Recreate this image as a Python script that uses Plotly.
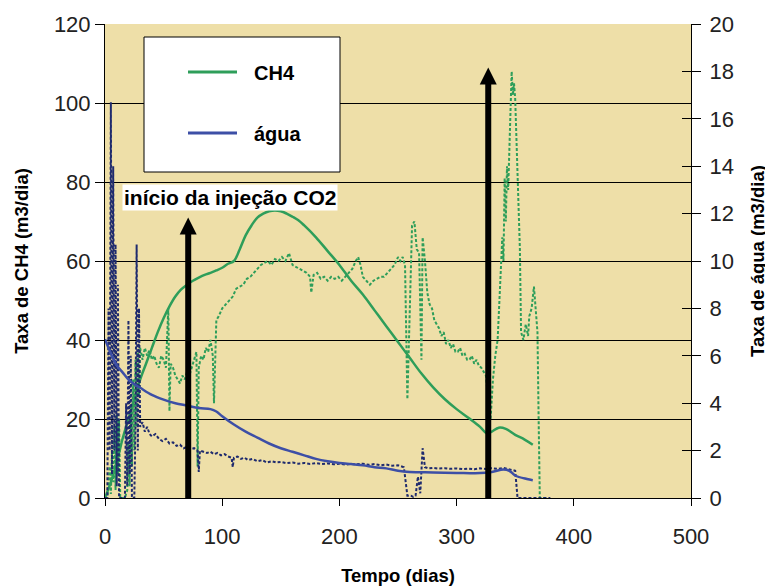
import plotly.graph_objects as go

# ---------------- data ----------------
# CH4 rate (left axis, m3/dia) - smooth simulated curve
ch4_days = [0, 5, 10, 15, 20, 25, 30, 35, 40, 45, 50, 55, 60, 65, 70, 75, 80, 85, 90, 95,
            100, 105, 110, 115, 120, 125, 130, 135, 140, 145, 150, 155, 160, 165, 170, 180,
            190, 200, 210, 220, 230, 240, 250, 260, 270, 280, 290, 300, 310, 320, 326, 330,
            336, 342, 350, 358, 365]
ch4_vals = [0, 4, 9, 15, 20, 25, 30, 34, 38, 42, 45.5, 48.5, 51, 52.8, 54, 55, 55.8, 56.5, 57, 57.6,
            58.3, 59.3, 60, 63, 66.5, 69, 71, 72, 72.6, 72.8, 72.6, 72, 71.2, 70.3, 69, 66,
            62.5, 59, 55, 51.5, 47.5, 43.5, 39.5, 35.5, 31.5, 28, 25, 22.5, 20.3, 18, 16.3, 16.8,
            17.8, 17.5, 16, 14.8, 13.5]

# Water rate (right axis, m3/dia) - smooth simulated curve
agua_days = [0, 5, 10, 15, 20, 25, 30, 40, 50, 60, 70, 80, 90, 95, 100, 110, 120, 130, 140, 150,
             160, 170, 180, 190, 200, 210, 220, 230, 240, 250, 260, 280, 300, 320, 330, 340, 345,
             350, 360, 365]
agua_vals = [6.7, 6.1, 5.6, 5.3, 5.0, 4.8, 4.65, 4.35, 4.15, 4.0, 3.9, 3.8, 3.75, 3.65, 3.45, 3.1,
             2.8, 2.55, 2.3, 2.1, 1.95, 1.8, 1.65, 1.55, 1.48, 1.43, 1.38, 1.3, 1.25, 1.15, 1.1,
             1.08, 1.06, 1.05, 1.1, 1.2, 1.15, 0.95, 0.8, 0.75]

# CH4 observed (left axis) - dotted
ch4_obs_days = [0, 2, 3, 4, 5, 6, 7, 8, 9, 10, 11, 12, 13, 15, 17, 19, 20, 21, 22, 23, 24, 25, 26,
                27, 28, 29, 30, 32, 34, 36, 38, 40, 42, 44, 46, 48, 50, 52, 54, 55, 56, 58, 60, 62,
                64, 66, 68, 70, 72, 74, 76, 78, 79, 80, 82, 84, 86, 88, 90, 92, 93, 94, 95, 97,
                100, 103, 106, 109, 112, 115, 118, 121, 124, 127, 130, 133, 136, 139, 142, 145,
                148, 151, 154, 157, 160, 163, 166, 169, 172, 175, 176, 178, 181, 184, 187, 190,
                193, 196, 199, 202, 205, 208, 211, 214, 216, 218, 220, 223, 226, 229, 232, 235,
                238, 241, 244, 247, 250, 252, 254, 256, 258, 260, 262, 264, 266, 268, 270, 271,
                273, 275, 277, 279, 281, 283, 285, 287, 289, 291, 293, 295, 297, 299, 301, 303,
                305, 307, 309, 311, 313, 315, 317, 319, 321, 323, 325, 327, 329, 331, 333, 335,
                337, 339, 340, 341, 342, 343, 344, 345, 346, 347, 348, 349, 350, 352, 354, 355,
                357, 359, 361, 362, 364, 366, 367, 369, 370, 371, 375]
ch4_obs_vals = [0, 0, 3, 8, 1, 12, 4, 18, 2, 21, 6, 20, 0, 0, 0, 2, 14, 3, 22, 8, 30, 12, 35,
                18, 37, 26, 38, 35, 38, 36, 37.5, 35, 36, 34, 33, 36, 35, 33, 48, 22, 34, 33, 31, 30,
                29, 31, 30, 32, 31, 33, 35, 37, 8, 33, 36, 35, 38, 37, 40, 36, 24, 38, 45, 46,
                48, 49, 50, 51, 53, 53.5, 54, 55.5, 56, 57, 58, 59, 59.5, 60, 59, 60.5,
                60, 61, 60, 62, 59, 58.5, 58, 57.5, 57, 56, 52, 56.5, 57, 55.5, 56, 55,
                56, 55.5, 56, 55, 56, 57, 58, 60, 61, 59, 56, 55, 54, 55, 55.5, 56,
                56, 57, 58, 59, 61, 60, 61, 59, 25, 45, 69, 70, 63, 62, 35, 66,
                60, 52, 49, 48, 45, 44, 43, 41, 42, 39, 40, 38, 39, 37, 37, 38,
                36, 36.5, 35, 35, 36, 34, 35, 33.5, 33, 32, 31, 25, 20, 30, 36, 40,
                52, 66, 60, 81, 70, 84, 78, 90, 100, 108, 102, 105, 101, 80, 63, 42,
                40, 44, 41, 46, 48, 53.5, 50, 42, 20, 0, 0]

# Water observed (right axis) - dotted
agua_obs_days = [0, 2, 3, 4, 5, 6, 7, 8, 9, 10, 11, 12, 13, 15, 17, 18, 19, 20, 21, 22, 23, 25,
                 26, 27, 28, 29, 30, 32, 34, 36, 38, 40, 43, 46, 49, 52, 55, 58, 61, 64, 67, 70,
                 73, 76, 79, 80, 81, 84, 87, 90, 93, 96, 99, 102, 105, 108, 109, 110, 113, 116,
                 119, 122, 126, 130, 134, 138, 142, 146, 150, 155, 160, 165, 170, 175, 180, 185,
                 190, 195, 200, 205, 210, 215, 220, 225, 230, 235, 240, 245, 250, 255, 258, 261,
                 263, 265, 267, 269, 271, 273, 276, 280, 285, 290, 295, 300, 305, 310, 315, 320,
                 325, 330, 335, 340, 345, 350, 352, 360, 370, 380]
agua_obs_vals = [0, 0, 8, 2, 16.7, 1, 14, 2, 10.7, 0.5, 9, 0, 0, 0, 0, 4, 0.5, 7.5, 1, 6, 0, 0,
                 3, 10.7, 2, 8, 3, 3.2, 2.8, 3.0, 2.7, 2.6, 2.7, 2.5, 2.4, 2.5, 2.3, 2.35, 2.2, 2.25,
                 2.1, 2.15, 2.05, 2.1, 2.0, 1.1, 2.0, 1.95, 1.9, 1.95, 1.85, 1.9, 1.8, 1.85, 1.75,
                 1.7, 1.3, 1.7, 1.75, 1.65, 1.7, 1.6, 1.65, 1.55, 1.6, 1.5, 1.55, 1.5, 1.52, 1.47,
                 1.5, 1.45, 1.48, 1.44, 1.47, 1.43, 1.46, 1.42, 1.45, 1.41, 1.44, 1.42, 1.45, 1.4,
                 1.43, 1.38, 1.41, 1.36, 1.38, 1.3, 0.1, 0.1, 0.05, 0.1, 0.9, 0.2, 2.1, 1.3, 1.25,
                 1.27, 1.24, 1.26, 1.23, 1.25, 1.22, 1.24, 1.21, 1.25, 1.22, 1.26, 1.23, 1.27, 1.2,
                 1.15, 0, 0, 0, 0]

x_ticks = [0, 100, 200, 300, 400, 500]
y_left_ticks = [0, 20, 40, 60, 80, 100, 120]
y_right_ticks = [0, 2, 4, 6, 8, 10, 12, 14, 16, 18, 20]

# arrows marking CO2 injection events (day, tip height on left axis)
arrow_days = [71, 327]
arrow_tips = [71, 109]

series_names = ["CH4", "água"]

# ---------------- styling ----------------
GREEN = "#2E9E5A"
BLUE = "#3D4FA6"
NAVY = "#1F2B6E"
BG = "#EEDFA8"
FONT = "Liberation Sans, Arial, sans-serif"

fig = go.Figure()

fig.add_trace(go.Scatter(x=agua_obs_days, y=agua_obs_vals, yaxis="y2", mode="lines",
                         line=dict(color=NAVY, width=2, dash="3px,2px"), showlegend=False,
                         hoverinfo="skip"))
fig.add_trace(go.Scatter(x=ch4_obs_days, y=ch4_obs_vals, yaxis="y", mode="lines",
                         line=dict(color=GREEN, width=2, dash="3px,2px"), showlegend=False,
                         hoverinfo="skip"))
fig.add_trace(go.Scatter(x=ch4_days, y=ch4_vals, yaxis="y", mode="lines", name=series_names[0],
                         showlegend=False, line=dict(color=GREEN, width=2.5, shape="spline")))
fig.add_trace(go.Scatter(x=agua_days, y=agua_vals, yaxis="y2", mode="lines", name=series_names[1],
                         showlegend=False, line=dict(color=BLUE, width=2.5, shape="spline")))
# invisible trace to carry the inner tick marks of the right axis
fig.add_trace(go.Scatter(x=agua_days, y=agua_vals, yaxis="y3", mode="lines", opacity=0,
                         showlegend=False, hoverinfo="skip"))

# the page body adds an 8px offset; target plot area (page px): x 105..691, y 24..498
OFF = 8
X0, X1, Y0, Y1 = 105, 691, 24, 498
FW, FH = 773 - OFF, 587 - OFF
W, H = X1 - X0, Y1 - Y0


def px(xp):
    return (xp - X0) / W


def py(yp):
    return (Y1 - yp) / H


shapes = []
annotations = []
# legend box
shapes.append(dict(type="rect", xref="paper", yref="paper", x0=px(144), x1=px(340),
                   y0=py(172), y1=py(37), fillcolor="white", line=dict(color="black", width=1),
                   layer="above"))
for name, col, yy in zip(series_names, [GREEN, BLUE], [72, 133]):
    shapes.append(dict(type="line", xref="paper", yref="paper", x0=px(188), x1=px(237),
                       y0=py(yy), y1=py(yy), line=dict(color=col, width=3), layer="above"))
    annotations.append(dict(x=px(252), y=py(yy + 1), xref="paper", yref="paper",
                            xanchor="left", yanchor="middle", text=f"<b>{name}</b>",
                            showarrow=False, font=dict(size=20, color="black", family=FONT)))
# arrows
xs = 500 / W   # days per pixel
ys = 120 / H   # left units per pixel
for d, tip in zip(arrow_days, arrow_tips):
    base = tip - 17 * ys
    shapes.append(dict(type="line", xref="x", yref="y", x0=d, x1=d, y0=0, y1=base + 1,
                       line=dict(color="black", width=6), layer="above"))
    hw = 8.5 * xs
    shapes.append(dict(type="path", xref="x", yref="y",
                       path=f"M {d - hw},{base} L {d + hw},{base} L {d},{tip} Z",
                       fillcolor="black", line=dict(color="black", width=0), layer="above"))

annotations.append(dict(x=px(230), y=py(197), xref="paper", yref="paper",
                        xanchor="center", yanchor="middle",
                        text="<b>início da injeção CO2</b>", showarrow=False,
                        font=dict(size=21, color="black", family=FONT), bgcolor="white",
                        borderpad=1))

fig.update_layout(
    width=FW, height=FH,
    margin=dict(l=X0 - OFF, r=FW - (X1 - OFF), t=Y0 - OFF, b=FH - (Y1 - OFF)),
    paper_bgcolor="white", plot_bgcolor=BG,
    font=dict(family=FONT, color="#222"),
    shapes=shapes,
    annotations=annotations,
    showlegend=False,
    xaxis=dict(range=[0, 500], tickvals=x_ticks, ticks="outside", ticklen=7, tickcolor="black",
               showline=True, linecolor="black", linewidth=1, showgrid=False, zeroline=False,
               tickfont=dict(size=22, color="#222"), ticklabelstandoff=12,
               title=dict(text="<b>Tempo (dias)</b>", font=dict(size=18.5, color="black"),
                          standoff=20),
               automargin=False),
    yaxis=dict(range=[0, 120], tickvals=y_left_ticks, ticks="outside", ticklen=9,
               tickcolor="black", showline=True, linecolor="black", linewidth=1,
               showgrid=True, gridcolor="black", gridwidth=1, zeroline=False,
               tickfont=dict(size=22, color="#222"),
               title=dict(text="<b>Taxa de CH4 (m3/dia)</b>", font=dict(size=18.5, color="black"),
                          standoff=20),
               automargin=False),
    yaxis2=dict(range=[0, 20], tickvals=y_right_ticks, overlaying="y", side="right",
                ticks="outside", ticklen=9, tickcolor="black", showline=True,
                linecolor="black", linewidth=1, showgrid=False, zeroline=False,
                tickfont=dict(size=22, color="#222"), ticklabelstandoff=4,
                title=dict(text="<b>Taxa de água (m3/dia)</b>",
                           font=dict(size=18.5, color="black"), standoff=18),
                automargin=False),
    yaxis3=dict(range=[0, 20], tickvals=y_right_ticks[1:-1], overlaying="y", side="right",
                ticks="inside", ticklen=9, tickcolor="black", showline=False,
                showticklabels=False, showgrid=False, zeroline=False),
)

fig.write_html("out.html")
